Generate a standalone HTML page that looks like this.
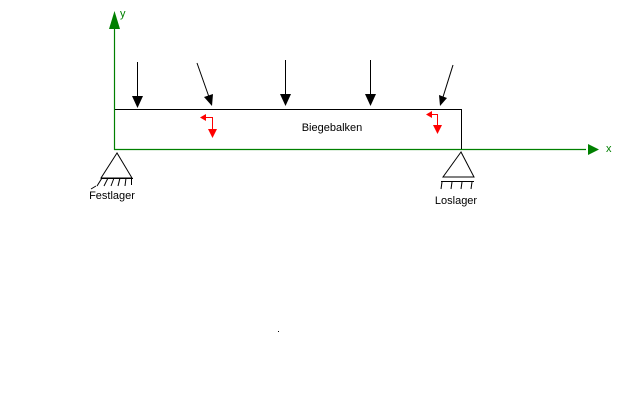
<!DOCTYPE html>
<html><head><style>
html,body{margin:0;padding:0;background:#fff;}
svg{display:block;}
text{font-family:"Liberation Sans",sans-serif;font-size:11px;}
</style></head><body>
<svg width="640" height="400" xmlns="http://www.w3.org/2000/svg">
<rect width="640" height="400" fill="#fff"/>
<!-- axes -->
<line x1="114.5" y1="150" x2="114.5" y2="26" stroke="#008000" stroke-width="1.2"/>
<polygon points="114.5,11 109,29 120,29" fill="#008000"/>
<text x="120" y="17" fill="#008000" font-size="10">y</text>
<line x1="114" y1="149.5" x2="586" y2="149.5" stroke="#008000" stroke-width="1.2"/>
<polygon points="599,149.5 588,144 588,155" fill="#008000"/>
<text x="606" y="152" fill="#008000" font-size="10">x</text>
<!-- beam -->
<polyline points="115,109.5 461.5,109.5 461.5,149" fill="none" stroke="#000" stroke-width="1"/>
<text x="332" y="131" text-anchor="middle">Biegebalken</text>
<!-- forces -->
<g stroke="#000" stroke-width="1" fill="#000">
<line x1="137.5" y1="62" x2="137.5" y2="98"/>
<polygon points="137.5,108 132,96 143,96" stroke="none"/>
<line x1="197" y1="63" x2="209" y2="97"/>
<polygon points="212,106 204,97 213,94" stroke="none"/>
<line x1="285.5" y1="60" x2="285.5" y2="96"/>
<polygon points="285.5,106 280,94 291,94" stroke="none"/>
<line x1="370.5" y1="60" x2="370.5" y2="96"/>
<polygon points="370.5,106 365,94 376,94" stroke="none"/>
<line x1="453" y1="65" x2="443" y2="97"/>
<polygon points="440,106 439,95 447,98" stroke="none"/>
</g>
<!-- red moments -->
<g stroke="#f00" stroke-width="1" fill="#f00">
<polyline points="204,117.5 212.5,117.5 212.5,130" fill="none"/>
<polygon points="200,117.5 206,114 206,121" stroke="none"/>
<polygon points="212.5,138 208,129 217,129" stroke="none"/>
<polyline points="430,114.5 437.5,114.5 437.5,126" fill="none"/>
<polygon points="426,114.5 432,111 432,118" stroke="none"/>
<polygon points="437.5,134 433,125 442,125" stroke="none"/>
</g>
<!-- Festlager -->
<g stroke="#000" stroke-width="1" fill="none">
<polygon points="117,153 101,178 132,178"/>
<line x1="101" y1="178.5" x2="133" y2="178.5"/>
<line x1="131.5" y1="178" x2="131.5" y2="185"/>
<line x1="102" y1="178" x2="97" y2="186"/>
<line x1="108" y1="178" x2="104" y2="186"/>
<line x1="114" y1="178" x2="111" y2="186"/>
<line x1="120" y1="178" x2="118" y2="186"/>
<line x1="126" y1="178" x2="125" y2="186"/>
<line x1="96" y1="186" x2="91" y2="189"/>
</g>
<text x="112" y="199" text-anchor="middle">Festlager</text>
<!-- Loslager -->
<g stroke="#000" stroke-width="1" fill="none">
<polygon points="461,152 443,177 474,177"/>
<line x1="441" y1="181.5" x2="474" y2="181.5"/>
<line x1="442" y1="182" x2="441" y2="189"/>
<line x1="452" y1="182" x2="451" y2="189"/>
<line x1="462" y1="182" x2="461" y2="189"/>
<line x1="472" y1="182" x2="471" y2="189"/>
</g>
<text x="456" y="204" text-anchor="middle">Loslager</text>
<rect x="278" y="331" width="1" height="1" fill="#000"/>
</svg>
</body></html>
